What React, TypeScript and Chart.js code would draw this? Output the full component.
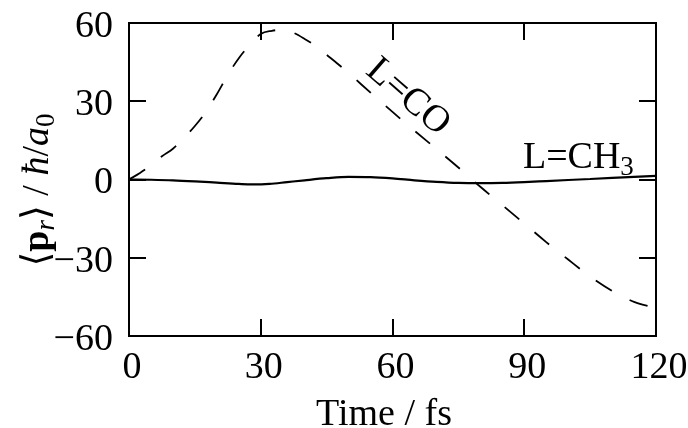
import React, { useEffect, useRef } from "react";
import { Chart, registerables } from "chart.js";

Chart.register(...registerables);

// ---- data ----
const coTime = [0, 2.5, 5, 7.5, 10, 12.5, 15, 17.5, 20, 22.5, 25, 27.5, 30, 32.5, 35, 37.5, 40, 42.5, 45, 47.5, 50, 55, 60, 65, 70, 75, 80, 85, 90, 95, 100, 105, 110, 115, 120];
const coValue = [0, 2.5, 5.4, 8.9, 11.8, 15.9, 20.5, 25.9, 32.7, 40.1, 46.5, 51.6, 55.8, 57.0, 57.4, 56.2, 53.9, 51.2, 47.8, 44.4, 40.8, 33.3, 25.9, 18.7, 11.7, 4.6, -2.8, -9.8, -16.9, -24.0, -30.7, -37.2, -42.7, -46.9, -49.3];
const ch3Time = [0, 5, 10, 15, 20, 25, 28, 32, 36, 40, 45, 50, 55, 60, 65, 70, 75, 80, 85, 90, 95, 100, 105, 110, 115, 120];
const ch3Value = [0, -0.1, -0.3, -0.7, -1.2, -1.7, -1.9, -1.7, -1.0, -0.3, 0.5, 1.0, 0.9, 0.4, -0.3, -0.9, -1.3, -1.4, -1.3, -1.0, -0.6, -0.2, 0.2, 0.6, 1.0, 1.4];

const xTicks = [0, 30, 60, 90, 120];
const yTicks = [-60, -30, 0, 30, 60];
const xTitle = "Time / fs";
const coLabel = "L=CO";
const coLabelAt = { x: 63.5, y: 31.6 };
const ch3LabelMain = "L=CH";
const ch3LabelSub = "3";
const ch3LabelAt = { x: 89.7, y: 4.6 };

const SERIF = '"Liberation Serif", "DejaVu Serif", serif';
const FS = 38;

const decorPlugin = {
  id: "decor",
  afterDraw(chart: any) {
    const { ctx, chartArea: a, scales } = chart;
    const xs = scales.x;
    const ys = scales.y;
    ctx.save();
    ctx.strokeStyle = "#000";
    ctx.fillStyle = "#000";
    // frame
    ctx.lineWidth = 2;
    ctx.strokeRect(a.left, a.top, a.right - a.left, a.bottom - a.top);
    // inward ticks
    const TL = 17;
    ctx.beginPath();
    xTicks.forEach((v) => {
      const px = Math.round(xs.getPixelForValue(v));
      ctx.moveTo(px, a.bottom);
      ctx.lineTo(px, a.bottom - TL);
      ctx.moveTo(px, a.top);
      ctx.lineTo(px, a.top + TL);
    });
    yTicks.forEach((v) => {
      const py = Math.round(ys.getPixelForValue(v));
      ctx.moveTo(a.left, py);
      ctx.lineTo(a.left + TL, py);
      ctx.moveTo(a.right, py);
      ctx.lineTo(a.right - TL, py);
    });
    ctx.stroke();

    // x title
    ctx.font = `${FS}px ${SERIF}`;
    ctx.textAlign = "center";
    ctx.textBaseline = "alphabetic";
    ctx.fillText(xTitle, 384, 425);

    // y title (rich text, rotated)
    const main = `${FS}px ${SERIF}`;
    const bold = `bold ${FS}px ${SERIF}`;
    const ital = `italic ${FS}px ${SERIF}`;
    const subI = `italic ${Math.round(FS * 0.7)}px ${SERIF}`;
    const sub = `${Math.round(FS * 0.7)}px ${SERIF}`;
    const pieces: { t: string; f: string; dy: number }[] = [
      { t: "\u27E8", f: main, dy: 0 },
      { t: "p", f: bold, dy: 0 },
      { t: "r", f: subI, dy: 6 },
      { t: "\u27E9", f: main, dy: 0 },
      { t: " / ", f: main, dy: 0 },
      { t: "\u0127", f: ital, dy: 0 },
      { t: "/", f: main, dy: 0 },
      { t: "a", f: ital, dy: 0 },
      { t: "0", f: sub, dy: 6 },
    ];
    let total = 0;
    const widths = pieces.map((p) => {
      ctx.font = p.f;
      const w = ctx.measureText(p.t).width;
      total += w;
      return w;
    });
    ctx.save();
    ctx.translate(48, 190);
    ctx.rotate(-Math.PI / 2);
    ctx.textAlign = "left";
    let cx = -total / 2;
    pieces.forEach((p, i) => {
      ctx.font = p.f;
      ctx.fillText(p.t, cx, p.dy);
      cx += widths[i];
    });
    ctx.restore();

    // L=CO label, rotated along the dashed curve
    ctx.save();
    ctx.translate(xs.getPixelForValue(coLabelAt.x), ys.getPixelForValue(coLabelAt.y));
    ctx.rotate((41 * Math.PI) / 180);
    ctx.font = `${FS}px ${SERIF}`;
    ctx.textAlign = "center";
    ctx.textBaseline = "middle";
    ctx.fillText(coLabel, 0, 0);
    ctx.restore();

    // L=CH3 label
    const lx = xs.getPixelForValue(ch3LabelAt.x);
    const ly = ys.getPixelForValue(ch3LabelAt.y);
    ctx.font = `${FS}px ${SERIF}`;
    ctx.textAlign = "left";
    ctx.textBaseline = "alphabetic";
    ctx.fillText(ch3LabelMain, lx, ly);
    const mw = ctx.measureText(ch3LabelMain).width;
    ctx.font = `${Math.round(FS * 0.7)}px ${SERIF}`;
    ctx.fillText(ch3LabelSub, lx + mw, ly + 7);
    ctx.restore();
  },
};

const zeroPad = (s: any) => {
  s.paddingLeft = 0;
  s.paddingRight = 0;
  s.paddingTop = 0;
  s.paddingBottom = 0;
};

export default function App() {
  const ref = useRef<HTMLCanvasElement>(null);
  useEffect(() => {
    if (!ref.current) return;
    const fmt = (v: any) => (Number(v) < 0 ? "\u2212" + Math.abs(Number(v)) : String(v));
    const chart = new Chart(ref.current, {
      type: "line",
      data: {
        datasets: [
          {
            label: "L=CO",
            data: coTime.map((t, i) => ({ x: t, y: coValue[i] })),
            borderColor: "#000",
            borderWidth: 1.8,
            borderDash: [19, 20],
            pointRadius: 0,
            cubicInterpolationMode: "monotone",
            fill: false,
          },
          {
            label: "L=CH3",
            data: ch3Time.map((t, i) => ({ x: t, y: ch3Value[i] })),
            borderColor: "#000",
            borderWidth: 2.2,
            pointRadius: 0,
            cubicInterpolationMode: "monotone",
            fill: false,
          },
        ],
      },
      options: {
        responsive: false,
        animation: false,
        events: [],
        layout: { padding: { top: 23, right: 32, left: 0, bottom: 0 } },
        plugins: { legend: { display: false }, tooltip: { enabled: false }, title: { display: false } },
        scales: {
          x: {
            type: "linear",
            min: 0,
            max: 120,
            grid: { display: false, drawTicks: false },
            border: { display: false },
            afterBuildTicks: (s: any) => {
              s.ticks = xTicks.map((v) => ({ value: v }));
            },
            afterFit: (s: any) => {
              s.height = 92;
              zeroPad(s);
            },
            ticks: {
              padding: 9,
              labelOffset: 3,
              color: "#000",
              font: { family: SERIF, size: FS },
              maxRotation: 0,
              callback: fmt,
            },
          },
          y: {
            type: "linear",
            min: -60,
            max: 60,
            grid: { display: false, drawTicks: false },
            border: { display: false },
            afterBuildTicks: (s: any) => {
              s.ticks = yTicks.map((v) => ({ value: v }));
            },
            afterFit: (s: any) => {
              s.width = 129;
              zeroPad(s);
            },
            ticks: {
              padding: 16,
              labelOffset: 4,
              color: "#000",
              font: { family: SERIF, size: FS },
              callback: fmt,
            },
          },
        },
      },
      plugins: [decorPlugin],
    } as any);
    return () => chart.destroy();
  }, []);
  return (
    <div style={{ position: "fixed", left: 0, top: 0, width: 688, height: 428, background: "#fff" }}>
      <canvas ref={ref} width={688} height={428} style={{ display: "block" }} />
    </div>
  );
}
